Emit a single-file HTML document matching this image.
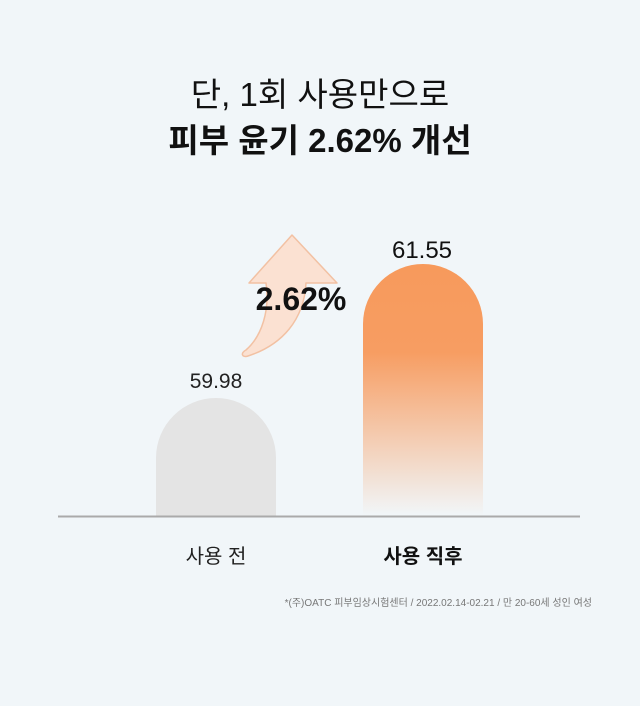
<!DOCTYPE html>
<html><head><meta charset="utf-8"><style>
body{margin:0;width:640px;height:706px;background:#f1f6f9;position:relative;overflow:hidden;font-family:"Liberation Sans","Noto Sans CJK KR",sans-serif;color:#111}
.t{position:absolute;left:0;width:640px;text-align:center}
</style></head><body>
<div class="t" style="top:68px;font-size:33px;">단, 1회 사용만으로</div>
<div class="t" style="top:114px;font-size:33px;font-weight:bold;">피부 윤기 2.62% 개선</div>
<svg width="640" height="706" style="position:absolute;left:0;top:0">
<defs><linearGradient id="g" x1="0" y1="0" x2="0" y2="1">
<stop offset="0" stop-color="#f79a5c"/><stop offset="0.35" stop-color="#f79d62"/><stop offset="1" stop-color="#f79d62" stop-opacity="0"/></linearGradient></defs>
<path d="M292 235 L337 283 L306 283 C304 320 282 345 248 356 C242 358 240 353 246 350 C262 336 270 310 266 283 L249 283 Z" fill="#fbe1d2" stroke="#f2c1a3" stroke-width="1.5" stroke-linejoin="round"/>
<path d="M156 516 V458 A60 60 0 0 1 276 458 V516 Z" fill="#e4e4e4"/>
<path d="M363 516 V324 A60 60 0 0 1 483 324 V516 Z" fill="url(#g)"/>
<line x1="58" y1="516.5" x2="580" y2="516.5" stroke="#aaa" stroke-width="2"/>
<text x="216" y="388" text-anchor="middle" font-size="21" fill="#222" font-family="Liberation Sans, sans-serif">59.98</text>
<text x="422" y="258" text-anchor="middle" font-size="24" fill="#111" font-family="Liberation Sans, sans-serif">61.55</text>
<text x="301" y="310" text-anchor="middle" font-size="32" font-weight="bold" fill="#111" font-family="Liberation Sans, sans-serif">2.62%</text>
</svg>
<div style="position:absolute;left:156px;width:120px;top:540px;text-align:center;font-size:20px;color:#222">사용 전</div>
<div style="position:absolute;left:363px;width:120px;top:540px;text-align:center;font-size:20px;font-weight:bold">사용 직후</div>
<div style="position:absolute;right:48px;top:594px;font-size:10px;color:#777">*(주)OATC 피부임상시험센터 / 2022.02.14-02.21 / 만 20-60세 성인 여성</div>
</body></html>
